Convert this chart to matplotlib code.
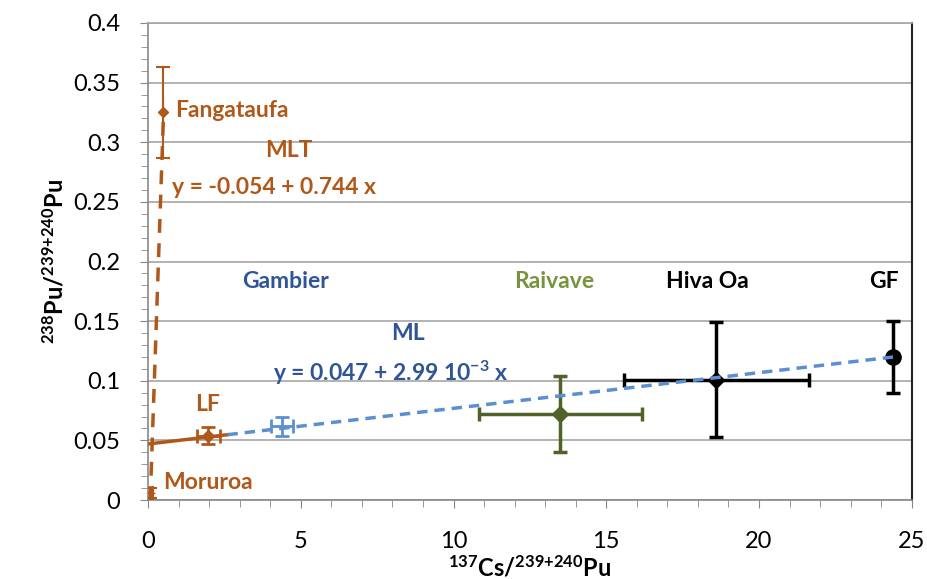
import matplotlib
matplotlib.use("Agg")
import matplotlib.pyplot as plt
import numpy as np

plt.rcParams['font.family'] = ['Lato', 'DejaVu Sans']
plt.rcParams['mathtext.fontset'] = 'custom'
plt.rcParams['mathtext.rm'] = 'Lato'
plt.rcParams['mathtext.bf'] = 'Lato:bold'
plt.rcParams['mathtext.default'] = 'regular'

# sites: Cs/Pu ratio (x), 238Pu/239+240Pu ratio (y) with uncertainties
sites = ["Moruroa", "LF", "Gambier", "Fangataufa", "Raivave", "Hiva Oa", "GF"]
cs_pu = [0.07, 1.97, 4.39, 0.5, 13.5, 18.6, 24.4]
cs_pu_err = [0.1, 0.38, 0.35, 0.0, 2.67, 3.03, 0.0]
pu_ratio = [0.006, 0.054, 0.062, 0.325, 0.072, 0.101, 0.12]
pu_ratio_err = [0.004, 0.007, 0.008, 0.038, 0.032, 0.048, 0.03]

# regression lines
mlt_a, mlt_b = -0.054, 0.744
ml_a, ml_b = 0.047, 2.99e-3

brown = "#B0581A"
navy = "#2F5597"
lightblue = "#5B8FD0"
olive = "#4F6228"
olive_txt = "#77933C"

fig = plt.figure(figsize=(9.28, 5.79), dpi=100)
ax = fig.add_axes([0.1595, 0.1364, 0.823, 0.8239])

# mixing lines
x_mlt = np.array([-mlt_a / mlt_b, cs_pu[3]])
ax.plot(x_mlt, mlt_a + mlt_b * x_mlt, color=brown, lw=2.5, ls=(0, (4, 3)), zorder=4)
x_lf = np.array([0, 2.6])
ax.plot(x_lf, ml_a + ml_b * x_lf, color=brown, lw=2.5, zorder=4)
x_ml = np.array([2.6, cs_pu[6]])
ax.plot(x_ml, ml_a + ml_b * x_ml, color=lightblue, lw=2.5, ls=(0, (3, 2)), zorder=5)

styles = {
    "Moruroa": dict(color=brown, marker="+", ms=7, lw=1.5),
    "LF": dict(color=brown, marker="D", ms=6, lw=2),
    "Gambier": dict(color=lightblue, marker="_", ms=7, lw=2),
    "Fangataufa": dict(color=brown, marker="D", ms=5, lw=1.5),
    "Raivave": dict(color=olive, marker="D", ms=8, lw=2.5),
    "Hiva Oa": dict(color="black", marker="D", ms=8, lw=2.5),
    "GF": dict(color="black", marker="o", ms=11, lw=2.5),
}
for name, x, xe, y, ye in zip(sites, cs_pu, cs_pu_err, pu_ratio, pu_ratio_err):
    st = styles[name]
    ax.errorbar(x, y, xerr=xe if xe > 0 else None, yerr=ye,
                fmt=st["marker"], ms=st["ms"], color=st["color"],
                ecolor=st["color"], elinewidth=st["lw"], capsize=5,
                capthick=st["lw"], zorder=3)

# annotations
bold = dict(fontweight="bold", fontsize=16.5)
ax.text(0.9, 0.327, "Fangataufa", color=brown, ha="left", va="center", **bold)
ax.text(4.6, 0.293, "MLT", color=brown, ha="center", va="center", **bold)
ax.text(0.8, 0.262, "y = -0.054 + 0.744 x", color=brown, ha="left", va="center", **bold)
ax.text(1.95, 0.08, "LF", color=brown, ha="center", va="center", **bold)
ax.text(0.5, 0.015, "Moruroa", color=brown, ha="left", va="center", **bold)
ax.text(4.5, 0.183, "Gambier", color=navy, ha="center", va="center", **bold)
ax.text(8.5, 0.14, "ML", color=navy, ha="center", va="center", **bold)
ax.text(4.1, 0.107, r"y = 0.047 + 2.99 10$^{\mathbf{-3}}$ x", color=navy,
        ha="left", va="center", **bold)
ax.text(13.3, 0.183, "Raivave", color=olive_txt, ha="center", va="center", **bold)
ax.text(18.3, 0.183, "Hiva Oa", color="black", ha="center", va="center", **bold)
ax.text(24.1, 0.183, "GF", color="black", ha="center", va="center", **bold)

ax.set_xlim(0, 25)
ax.set_ylim(0, 0.4)
ax.set_xticks(np.arange(0, 26, 5))
ax.set_xticks(np.arange(0, 26, 1), minor=True)
ax.set_yticks(np.arange(0, 0.401, 0.05))
ax.set_yticks(np.arange(0, 0.401, 0.01), minor=True)
ax.set_xticklabels([str(v) for v in range(0, 26, 5)])
ax.set_yticklabels(["0", "0.05", "0.1", "0.15", "0.2", "0.25", "0.3", "0.35", "0.4"])
ax.tick_params(axis="both", which="major", labelsize=17, length=6, color="#888888",
               direction="out", pad=8)
ax.tick_params(axis="both", which="minor", length=5, color="#888888", direction="out")
ax.tick_params(axis="y", which="major", pad=14)
ax.tick_params(axis="x", which="major", pad=16)

ax.yaxis.grid(True, which="major", color="#A6A6A6", lw=1.2)
ax.set_axisbelow(True)
for side in ["left", "bottom"]:
    ax.spines[side].set_color("#888888")
    ax.spines[side].set_linewidth(1.2)
ax.spines["top"].set_color("#A6A6A6")
ax.spines["top"].set_linewidth(1.2)
ax.spines["right"].set_color("#222222")
ax.spines["right"].set_linewidth(1.5)

ax.set_xlabel(r"$\mathbf{^{137}Cs/^{239{+}240}Pu}$", fontsize=17, labelpad=2)
ax.set_ylabel(r"$\mathbf{^{238}Pu/^{239{+}240}Pu}$", fontsize=17, labelpad=4)

fig.savefig("out.png", dpi=100)
